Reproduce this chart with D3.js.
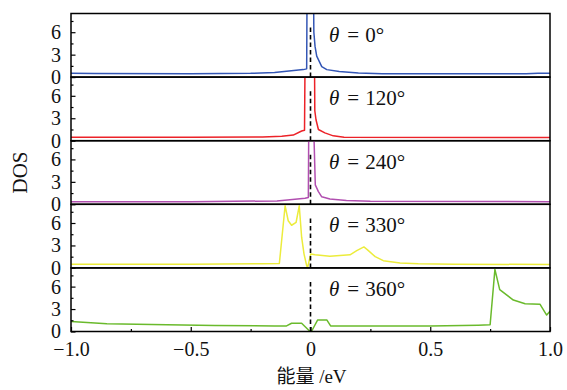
<!DOCTYPE html>
<html>
<head>
<meta charset="utf-8">
<script src="https://cdn.jsdelivr.net/npm/d3@7"></script>
<style>
  body { margin: 0; background: #fff; }
  svg { display: block; }
  text { font-family: "Liberation Serif", serif; fill: #111; }
</style>
</head>
<body>
<svg id="chart" width="567" height="390"></svg>
<script>
// panel labels (theta)
const thetas = ["0", "120", "240", "330", "360"];

// energy (eV) and DOS values, one pair per panel
const e0   = [-1, -0.9, -0.5, -0.25, -0.15, -0.11, -0.06, -0.03, -0.016, -0.014, 0.012, 0.014, 0.019, 0.026, 0.047, 0.068, 0.12, 0.2, 0.3, 0.9, 0.95, 1.0];
const dos0 = [0.5, 0.48, 0.45, 0.5, 0.6, 0.75, 0.9, 1.0, 1.1, 14, 14, 6.0, 4.1, 2.8, 1.4, 1.0, 0.75, 0.55, 0.45, 0.45, 0.5, 0.5];

const e120   = [-1, -0.5, -0.2, -0.12, -0.072, -0.037, -0.025, -0.022, 0.016, 0.018, 0.023, 0.033, 0.06, 0.095, 0.14, 1.0];
const dos120 = [0.45, 0.45, 0.5, 0.6, 0.75, 1.3, 1.4, 14, 14, 4.0, 2.8, 1.5, 1.05, 0.65, 0.45, 0.43];

const e240   = [-1, -0.5, -0.14, -0.086, -0.023, -0.009, -0.007, 0.012, 0.02, 0.033, 0.047, 0.081, 0.15, 0.25, 1.0];
const dos240 = [0.35, 0.35, 0.45, 0.6, 0.8, 0.9, 12, 12, 2.6, 1.7, 1.0, 0.7, 0.5, 0.4, 0.35];

const e330   = [-1, -0.5, -0.2, -0.13, -0.106, -0.093, -0.079, -0.06, -0.047, -0.037, -0.027, -0.016, -0.012, 0.001, 0.019, 0.081, 0.165, 0.193, 0.223, 0.237, 0.27, 0.304, 0.374, 0.45, 0.6, 1.0];
const dos330 = [0.5, 0.5, 0.55, 0.6, 8.3, 6.3, 5.7, 6.1, 8.3, 4.1, 1.85, 0.3, 0.05, 1.85, 1.75, 1.55, 1.75, 2.3, 2.8, 2.45, 1.5, 0.97, 0.65, 0.55, 0.5, 0.45];

const e360   = [-1, -0.85, -0.6, -0.4, -0.15, -0.1, -0.079, -0.037, -0.002, 0.004, 0.03, 0.068, 0.084, 0.5, 0.7, 0.75, 0.77, 0.79, 0.847, 0.896, 0.958, 0.986, 1.0];
const dos360 = [1.35, 1.05, 0.9, 0.8, 0.75, 0.75, 1.1, 1.1, 0.0, 0.0, 1.55, 1.55, 0.75, 0.75, 0.85, 0.9, 8.3, 5.6, 4.2, 3.7, 3.65, 2.2, 2.7];

const energies = [e0, e120, e240, e330, e360];
const dosValues = [dos0, dos120, dos240, dos330, dos360];

// axis ticks
const xTicks = [-1, -0.5, 0, 0.5, 1];
const xMinorTicks = [-0.75, -0.25, 0.25, 0.75];
const yTicks = [0, 3, 6];
const yMinorTicks = [1.5, 4.5, 7.5];

const colors = ["#3356b5", "#ec2228", "#b14fb0", "#ecec3c", "#6aba2c"];

const svg = d3.select("#chart");
const left = 71, right = 550, marginTop = 13.5, panelH = 63.6;
const yMax = 8.5, dashTop = 6.7;
const tickFont = "20px";

const x = d3.scaleLinear().domain([-1, 1]).range([left, right]);

thetas.forEach((th, i) => {
  const pTop = marginTop + i * panelH;
  const y = d3.scaleLinear().domain([0, yMax]).range([pTop + panelH, pTop]);
  const g = svg.append("g");

  g.append("clipPath").attr("id", "clip" + i)
    .append("rect")
    .attr("x", left).attr("y", pTop)
    .attr("width", right - left).attr("height", panelH);

  const pts = energies[i].map((e, k) => [e, dosValues[i][k]]);
  const line = d3.line().x(d => x(d[0])).y(d => y(d[1]));

  g.append("path")
    .attr("clip-path", `url(#clip${i})`)
    .attr("d", line(pts))
    .attr("fill", "none")
    .attr("stroke", colors[i])
    .attr("stroke-width", 1.5)
    .attr("stroke-linejoin", "round");

  // Fermi level
  g.append("line")
    .attr("x1", x(0)).attr("x2", x(0))
    .attr("y1", y(0)).attr("y2", y(dashTop))
    .attr("stroke", "#000")
    .attr("stroke-width", 1.6)
    .attr("stroke-dasharray", "4.5,3");

  // y axis, ticks pointing inward
  const yAxis = g.append("g").attr("transform", `translate(${left},0)`)
    .call(d3.axisLeft(y).tickValues(yTicks).tickSize(-4.5).tickPadding(10).tickFormat(d3.format("d")));
  g.append("g").attr("transform", `translate(${left},0)`)
    .call(d3.axisLeft(y).tickValues(yMinorTicks).tickSize(-2.5).tickFormat(""));
  g.selectAll(".domain").remove();
  g.selectAll(".tick line").attr("stroke", "#000").attr("stroke-width", 1.2);
  yAxis.selectAll("text")
    .style("font-family", "'Liberation Serif', serif")
    .style("font-size", tickFont)
    .attr("fill", "#111");

  g.append("rect")
    .attr("x", left).attr("y", pTop)
    .attr("width", right - left).attr("height", panelH)
    .attr("fill", "none")
    .attr("stroke", "#000")
    .attr("stroke-width", 1.5);

  const lbl = g.append("text")
    .attr("x", 329).attr("y", pTop + 28)
    .style("font-size", "21px");
  lbl.append("tspan").style("font-style", "italic").text("θ");
  lbl.append("tspan").attr("dx", 8).text("=");
  lbl.append("tspan").attr("dx", 6).text(th + "°");
});

// bottom x axis
const bottom = marginTop + 5 * panelH;
const xAxis = svg.append("g").attr("transform", `translate(0,${bottom})`)
  .call(d3.axisBottom(x).tickValues(xTicks).tickSize(-4.5).tickPadding(10)
    .tickFormat(d => d === 0 ? "0" : d3.format(".1f")(d)));
svg.append("g").attr("transform", `translate(0,${bottom})`)
  .call(d3.axisBottom(x).tickValues(xMinorTicks).tickSize(-2.5).tickFormat(""));
svg.selectAll(".domain").remove();
svg.selectAll(".tick line").attr("stroke", "#000").attr("stroke-width", 1.2);
xAxis.selectAll("text")
  .style("font-family", "'Liberation Serif', serif")
  .style("font-size", tickFont)
  .attr("fill", "#111");

// axis titles
svg.append("text")
  .attr("transform", `translate(27,${marginTop + 2.5 * panelH}) rotate(-90)`)
  .attr("text-anchor", "middle")
  .style("font-size", "21px")
  .text("DOS");

const xl = svg.append("text")
  .attr("x", (left + right) / 2 + 1).attr("y", 383)
  .attr("text-anchor", "middle")
  .style("font-size", "19px");
xl.append("tspan").style("font-family", "'Noto Sans CJK SC', sans-serif").text("能量");
xl.append("tspan").text(" /eV");
</script>
</body>
</html>
